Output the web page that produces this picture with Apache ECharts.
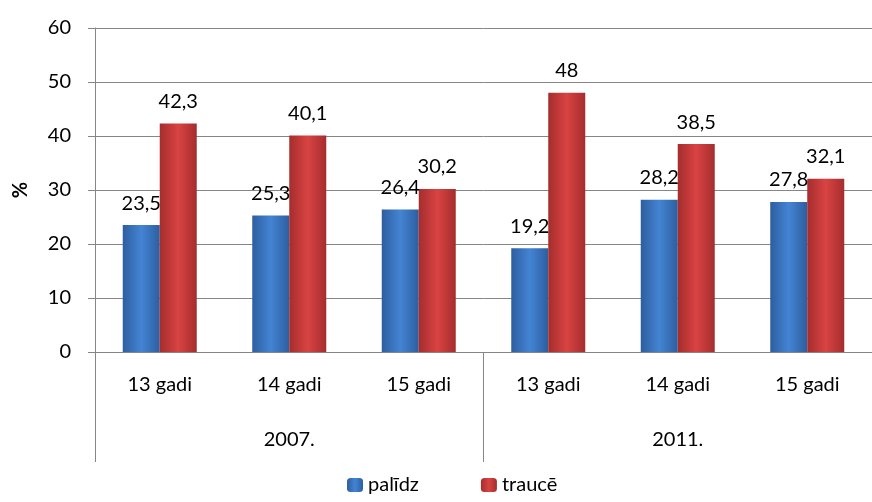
<!DOCTYPE html>
<html>
<head>
<meta charset="utf-8">
<script src="https://cdn.jsdelivr.net/npm/echarts@6/dist/echarts.min.js"></script>
<style>
html,body{margin:0;padding:0;background:#fff;}
#main{width:872px;height:502px;}
</style>
</head>
<body>
<div id="main"></div>
<script>
var ageLabels = ['13 gadi', '14 gadi', '15 gadi', '13 gadi', '14 gadi', '15 gadi'];
var yearLabels = ['2007.', '2011.'];
var palidz = [23.5, 25.3, 26.4, 19.2, 28.2, 27.8];
var traucee = [42.3, 40.1, 30.2, 48, 38.5, 32.1];

var myChart = echarts.init(document.getElementById('main'));
var font = 'Lato, "Open Sans", sans-serif';
var fs = 20;

function barColor(edge, mid) {
    return new echarts.graphic.LinearGradient(0, 0, 1, 0, [
        {offset: 0, color: edge},
        {offset: 0.5, color: mid},
        {offset: 1, color: edge}
    ]);
}

function fmt(p) {
    return String(p.value).replace('.', ',');
}

var option = {
    animation: false,
    textStyle: {fontFamily: font, color: '#000'},
    grid: {left: 95, top: 28, width: 790, height: 324},
    legend: {
        bottom: 2,
        left: 342,
        itemWidth: 16,
        itemHeight: 14,
        itemGap: 62,
        textStyle: {fontSize: fs, fontFamily: font, color: '#000'},
        data: ['palīdz', 'traucē']
    },
    xAxis: [
        {
            type: 'category',
            data: ageLabels,
            position: 'bottom',
            axisLine: {show: true, lineStyle: {color: '#868686'}},
            axisTick: {show: false},
            axisLabel: {margin: 23, fontSize: fs, color: '#000', fontFamily: font, interval: 0}
        },
        {
            type: 'category',
            data: yearLabels,
            position: 'bottom',
            axisLine: {show: false},
            axisTick: {show: true, length: 110, interval: 0, lineStyle: {color: '#868686'}},
            axisLabel: {margin: 78, fontSize: fs, color: '#000', fontFamily: font}
        }
    ],
    yAxis: {
        type: 'value',
        min: 0,
        max: 60,
        interval: 10,
        name: '%',
        nameLocation: 'middle',
        nameRotate: 90,
        nameGap: 64,
        nameTextStyle: {fontSize: fs, fontWeight: 'bold', color: '#000', fontFamily: font},
        axisLine: {show: true, lineStyle: {color: '#868686'}},
        axisTick: {show: true, length: 7, lineStyle: {color: '#868686'}},
        axisLabel: {fontSize: fs, color: '#000', fontFamily: font, margin: 24},
        splitLine: {lineStyle: {color: '#868686', width: 1}}
    },
    series: [
        {
            name: 'palīdz',
            type: 'bar',
            xAxisIndex: 0,
            barWidth: 37,
            barGap: '0%',
            data: palidz,
            itemStyle: {color: barColor('#2d5e9f', '#4484d4')},
            label: {show: true, position: 'top', distance: 12, fontSize: fs, color: '#000', fontFamily: font, formatter: fmt}
        },
        {
            name: 'traucē',
            type: 'bar',
            xAxisIndex: 0,
            barWidth: 37,
            data: traucee,
            itemStyle: {color: barColor('#a52d2d', '#d94343')},
            label: {show: true, position: 'top', distance: 12, fontSize: fs, color: '#000', fontFamily: font, formatter: fmt}
        }
    ]
};
myChart.setOption(option);
</script>
</body>
</html>
